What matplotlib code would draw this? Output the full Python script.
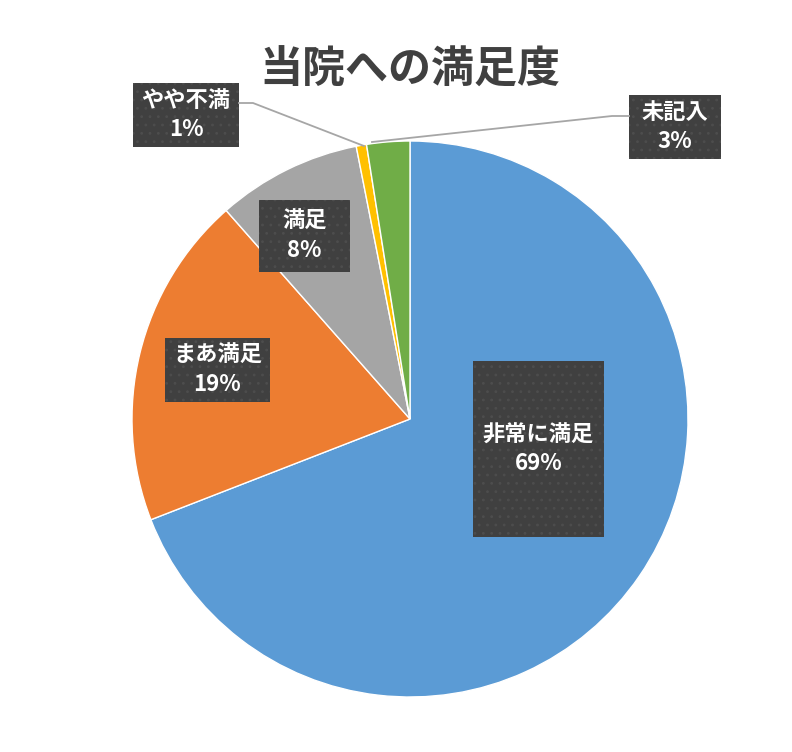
import matplotlib
matplotlib.use("Agg")
import matplotlib.pyplot as plt
from matplotlib.patches import Rectangle

plt.rcParams['font.family'] = ['Noto Sans CJK JP', 'DejaVu Sans']

# data
categories = ['非常に満足', 'まあ満足', '満足', 'やや不満', '未記入']
values = [69.1, 19.4, 8.4, 0.6, 2.5]
pct_labels = ['69%', '19%', '8%', '1%', '3%']
colors = ['#5B9BD5', '#ED7D31', '#A5A5A5', '#FFC000', '#70AD47']

W, H = 792, 752
fig = plt.figure(figsize=(W / 100, H / 100), dpi=100)

# pie placement (pixels)
cx, cy, r = 410, 419, 278
ax = fig.add_axes([(cx - r) / W, (H - cy - r) / H, 2 * r / W, 2 * r / H])
ax.pie(values, colors=colors, startangle=90, counterclock=False, radius=1,
       wedgeprops=dict(edgecolor='white', linewidth=1))
ax.set_xlim(-1, 1)
ax.set_ylim(-1, 1)
ax.axis('off')

fig.text(cx / W, 1 - 70 / H, '当院への満足度', ha='center', va='center',
         fontsize=31, fontweight='bold', color='#404040')

# label boxes in pixel coords: x0, y0, x1, y1
boxes = [(473, 361, 604, 537), (165, 338, 270, 402), (259, 200, 350, 272),
         (133, 83, 239, 147), (629, 95, 721, 159)]

# leader lines (pixel coords)
leaders = {3: [(239, 103), (253, 103), (364, 146)],
           4: [(629, 116), (612, 116), (372, 142)]}
for i, pts in leaders.items():
    xs = [p[0] / W for p in pts]
    ys = [1 - p[1] / H for p in pts]
    fig.add_artist(plt.Line2D(xs, ys, color='#a6a6a6', linewidth=1.3,
                              transform=fig.transFigure))

plt.rcParams['hatch.linewidth'] = 0.8
for i, (x0, y0, x1, y1) in enumerate(boxes):
    rect = Rectangle((x0 / W, 1 - y1 / H), (x1 - x0) / W, (y1 - y0) / H,
                     transform=fig.transFigure, facecolor='#404040',
                     edgecolor='#4d4d4d', hatch='..', linewidth=0)
    fig.add_artist(rect)
    fig.text((x0 + x1) / 2 / W, 1 - (y0 + y1) / 2 / H,
             categories[i] + '\n' + pct_labels[i], ha='center', va='center',
             fontsize=16, fontweight='bold', color='white', linespacing=1.3)

fig.savefig('out.png', dpi=100)
